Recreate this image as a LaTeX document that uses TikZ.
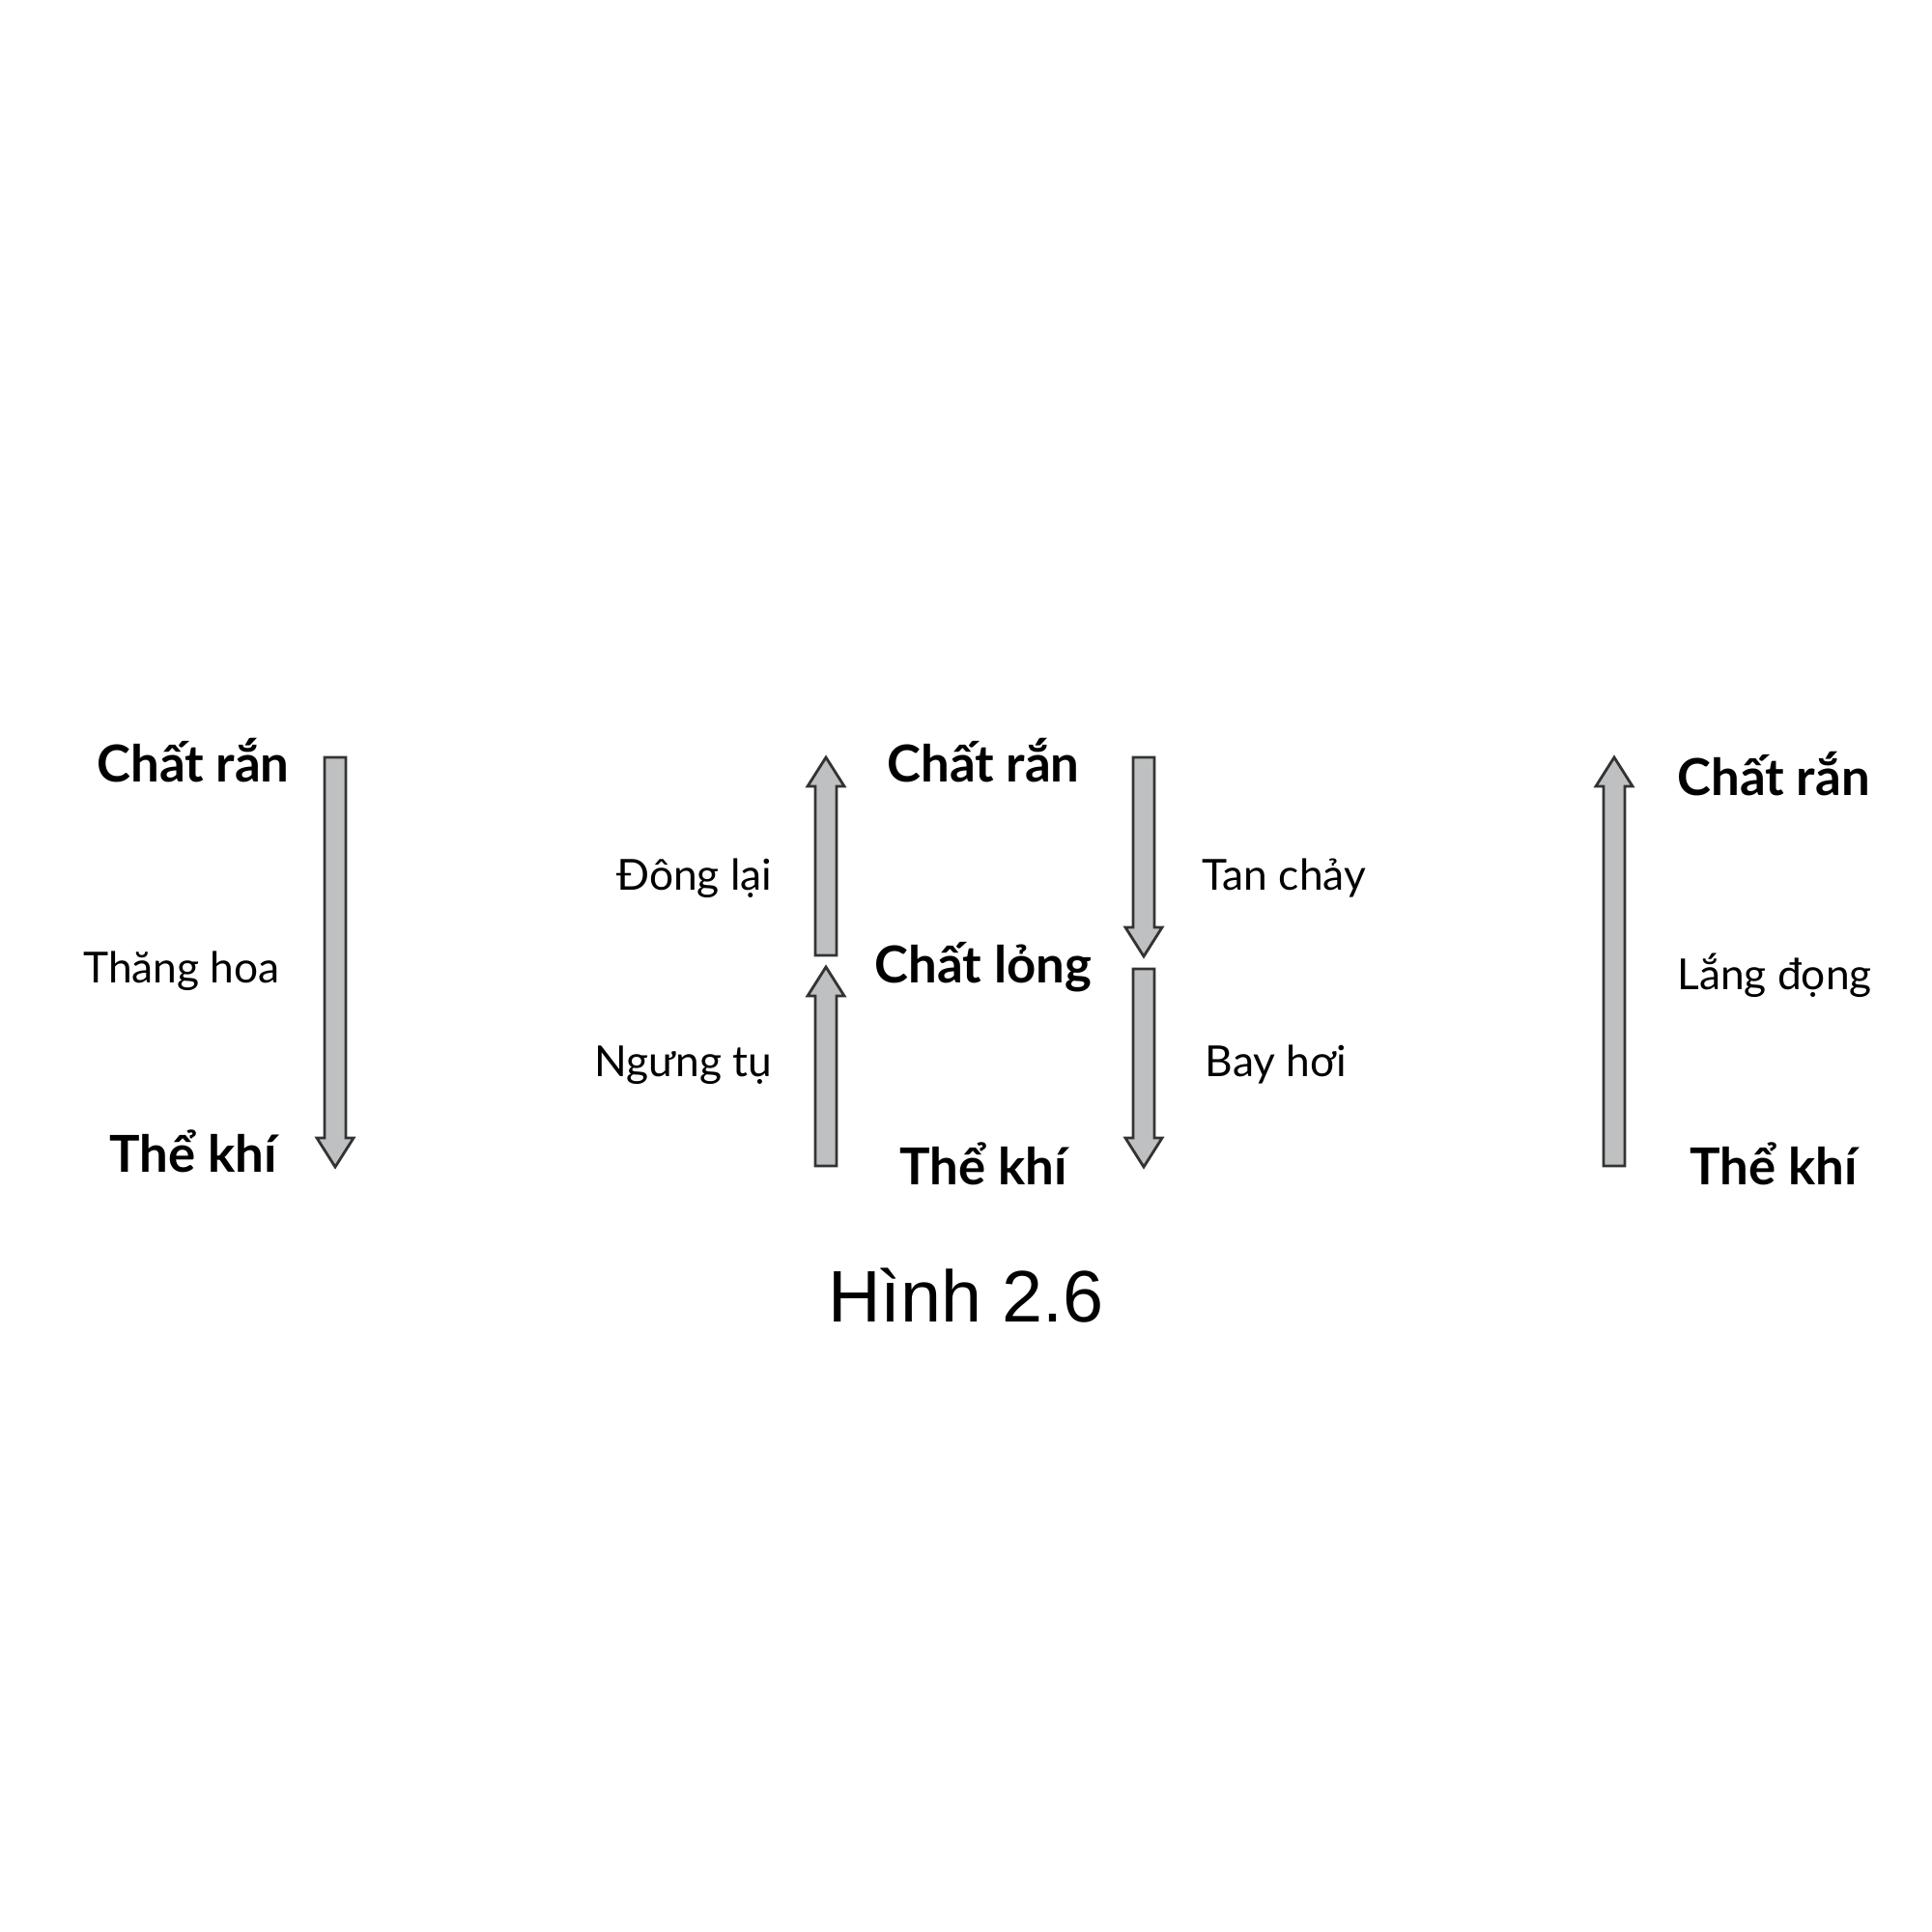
\documentclass[tikz,border=0pt]{standalone}
\usepackage{fontspec}
\setmainfont{Lato}
\newfontfamily\capfont{Liberation Sans}
\usetikzlibrary{calc}
\definecolor{arrfill}{HTML}{BFC0C2}
\definecolor{arrline}{HTML}{333333}
\tikzset{
  state/.style={font=\bfseries\fontsize{15}{18}\selectfont, inner sep=0pt},
  proc/.style={font=\fontsize{12.6}{15}\selectfont, inner sep=0pt},
  blockarr/.style={fill=arrfill, draw=arrline, line width=0.8pt, line join=miter},
}
\newcommand{\blockarrow}[2]{%
  \draw[blockarr] let \p1=(#1), \p2=(#2), \p3=($(#2)!0.3cm!(#1)$) in
    (\x1-0.11cm,\y1) -- (\x1-0.11cm,\y3) -- (\x1-0.19cm,\y3) -- (\x2,\y2)
    -- (\x1+0.19cm,\y3) -- (\x1+0.11cm,\y3) -- (\x1+0.11cm,\y1) -- cycle;}
\begin{document}
\begin{tikzpicture}
\useasboundingbox (0,0) rectangle (20,-20);
% left column: sublimation
\node[state,anchor=base] (s1) at (2.00,-8.09) {Chất rắn};
\node[proc,anchor=base] (p1) at (1.88,-10.17) {Thăng hoa};
\node[state,anchor=base] (g1) at (2.00,-12.13) {Thể khí};
\coordinate (a1s) at (3.47,-7.84);
\coordinate (a1e) at (3.47,-12.08);
\blockarrow{a1s}{a1e}
% middle
\node[state,anchor=base] (s2) at (10.18,-8.09) {Chất rắn};
\node[state,anchor=base] (l2) at (10.18,-10.17) {Chất lỏng};
\node[state,anchor=base] (g2) at (10.18,-12.26) {Thể khí};
\node[proc,anchor=base east] (p2) at (8.00,-9.21) {Đông lại};
\node[proc,anchor=base east] (p3) at (8.00,-11.14) {Ngưng tụ};
\node[proc,anchor=base west] (p4) at (12.44,-9.21) {Tan chảy};
\node[proc,anchor=base west] (p5) at (12.47,-11.14) {Bay hơi};
\coordinate (a2s) at (8.55,-9.89);
\coordinate (a2e) at (8.55,-7.84);
\coordinate (a3s) at (8.55,-12.07);
\coordinate (a3e) at (8.55,-10.01);
\coordinate (a4s) at (11.84,-7.84);
\coordinate (a4e) at (11.84,-9.90);
\coordinate (a5s) at (11.84,-10.03);
\coordinate (a5e) at (11.84,-12.08);
\blockarrow{a2s}{a2e}
\blockarrow{a3s}{a3e}
\blockarrow{a4s}{a4e}
\blockarrow{a5s}{a5e}
% right column: deposition
\node[state,anchor=base] (s6) at (18.36,-8.23) {Chất rắn};
\node[proc,anchor=base] (p6) at (18.37,-10.24) {Lắng đọng};
\node[state,anchor=base] (g6) at (18.36,-12.26) {Thể khí};
\coordinate (a6s) at (16.71,-12.07);
\coordinate (a6e) at (16.71,-7.84);
\blockarrow{a6s}{a6e}
% caption
\node[font=\capfont\fontsize{21.5}{26}\selectfont, inner sep=0pt, anchor=base] (cap) at (10.00,-13.68) {Hình 2.6};
\end{tikzpicture}
\end{document}
